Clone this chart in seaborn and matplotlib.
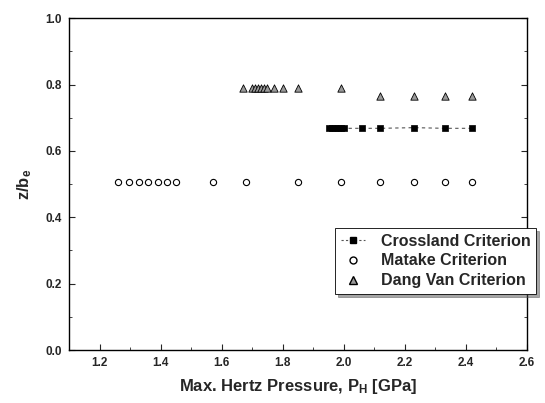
import matplotlib
matplotlib.use("Agg")
import matplotlib.pyplot as plt
from matplotlib.lines import Line2D
from matplotlib.ticker import MultipleLocator
import seaborn as sns
import pandas as pd

# Data
crossland_x = [1.95, 1.96, 1.97, 1.98, 1.99, 2.00, 2.06, 2.12, 2.23, 2.33, 2.42]
crossland_y = [0.668, 0.668, 0.668, 0.668, 0.668, 0.668, 0.668, 0.668, 0.670, 0.668, 0.668]
matake_x = [1.26, 1.295, 1.33, 1.36, 1.39, 1.42, 1.45, 1.57, 1.68, 1.85, 1.99, 2.12, 2.23, 2.33, 2.42]
matake_y = [0.505] * 15
dangvan_x = [1.67, 1.70, 1.71, 1.72, 1.73, 1.74, 1.75, 1.77, 1.80, 1.85, 1.99, 2.12, 2.23, 2.33, 2.42]
dangvan_y = [0.790, 0.790, 0.790, 0.790, 0.790, 0.790, 0.790, 0.790, 0.790, 0.790, 0.790, 0.765, 0.765, 0.765, 0.765]
labels = ["Crossland Criterion", "Matake Criterion", "Dang Van Criterion"]

sns.set_style("ticks")
plt.rcParams["font.family"] = ["Liberation Sans", "DejaVu Sans"]
plt.rcParams["font.weight"] = "bold"
plt.rcParams["mathtext.fontset"] = "custom"
plt.rcParams["mathtext.rm"] = "Liberation Sans:bold"
plt.rcParams["mathtext.it"] = "Liberation Sans:bold"
plt.rcParams["mathtext.bf"] = "Liberation Sans:bold"

fig = plt.figure(figsize=(5.45, 4.03), dpi=100)
ax = fig.add_axes([0.1266, 0.1315, 0.967 - 0.1266, 0.955 - 0.1315])

dfc = pd.DataFrame({"x": crossland_x, "y": crossland_y})
dfm = pd.DataFrame({"x": matake_x, "y": matake_y})
dfd = pd.DataFrame({"x": dangvan_x, "y": dangvan_y})

sns.lineplot(data=dfc, x="x", y="y", ax=ax, color="#555555", lw=0.8,
             linestyle=(0, (3, 3)), sort=False, estimator=None)
sns.scatterplot(data=dfc, x="x", y="y", ax=ax, marker="s", s=20, color="black",
                edgecolor="black", linewidth=0.5, zorder=3)
sns.scatterplot(data=dfm, x="x", y="y", ax=ax, marker="o", s=20, facecolor="white",
                edgecolor="black", linewidth=0.8, zorder=3)
sns.scatterplot(data=dfd, x="x", y="y", ax=ax, marker="^", s=28, color="#9a9a9a",
                edgecolor="black", linewidth=0.6, zorder=3)

ax.set_xlim(1.1, 2.6)
ax.set_ylim(0.0, 1.0)
ax.xaxis.set_minor_locator(MultipleLocator(0.1))
ax.yaxis.set_minor_locator(MultipleLocator(0.1))
ax.set_xticks([1.2, 1.4, 1.6, 1.8, 2.0, 2.2, 2.4, 2.6])
ax.set_xticklabels(["1.2", "1.4", "1.6", "1.8", "2.0", "2.2", "2.4", "2.6"])
ax.set_yticks([0.0, 0.2, 0.4, 0.6, 0.8, 1.0])
ax.set_yticklabels(["0.0", "0.2", "0.4", "0.6", "0.8", "1.0"])
ax.tick_params(axis="both", which="major", direction="in", length=4, width=0.8,
               labelsize=8.5, top=False, right=True, pad=5)
ax.tick_params(axis="both", which="minor", direction="in", length=2, width=0.6,
               top=False, right=True)
for lab in ax.get_xticklabels() + ax.get_yticklabels():
    lab.set_fontweight("bold")
for sp in ax.spines.values():
    sp.set_linewidth(1.0)
    sp.set_color("black")

ax.set_xlabel(r"Max. Hertz Pressure, P$_\mathrm{H}$ [GPa]", fontsize=12,
              fontweight="bold", labelpad=6)
ax.set_ylabel(r"z/b$_\mathrm{e}$", fontsize=12, fontweight="bold", labelpad=8)

handles = [
    Line2D([0], [0], color="#555555", lw=0.8, linestyle=(0, (2, 2)), marker="s",
           markersize=5, markerfacecolor="black", markeredgecolor="black"),
    Line2D([0], [0], color="none", marker="o", markersize=5,
           markerfacecolor="white", markeredgecolor="black"),
    Line2D([0], [0], color="none", marker="^", markersize=5.5,
           markerfacecolor="#9a9a9a", markeredgecolor="black"),
]
leg = ax.legend(handles, labels, loc="upper left",
                bbox_to_anchor=((335 - 69) / 458, 1 - (228 - 18) / 332),
                frameon=True, fancybox=False, shadow=True,
                prop={"weight": "bold", "size": 11.5}, handlelength=1.5,
                handletextpad=1.0, borderpad=0.35, labelspacing=0.3,
                borderaxespad=0)
leg.get_frame().set_edgecolor("black")
leg.get_frame().set_linewidth(0.6)

fig.savefig("out.png", dpi=100)
